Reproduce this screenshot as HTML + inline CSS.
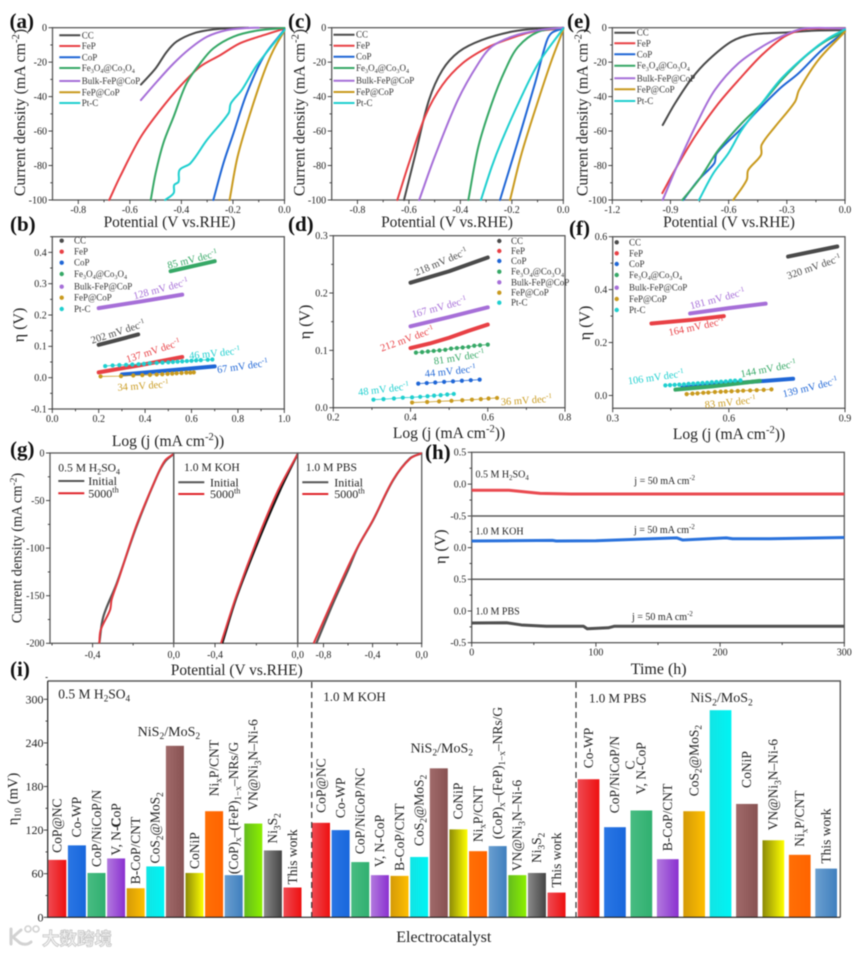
<!DOCTYPE html>
<html lang="en">
<head>
<meta charset="utf-8">
<title>HER electrocatalyst performance figure</title>
<style>
html,body{margin:0;padding:0;background:#fff;}
#figure{display:block;width:865px;height:953px;filter:blur(0.4px);font-family:"Liberation Serif","Noto Sans CJK SC",serif;}
</style>
</head>
<body>
<svg id="figure" xmlns="http://www.w3.org/2000/svg" width="865" height="953" viewBox="0 0 865 953">
<defs id="defs"></defs>
<g>
  <path d="M11 929v15M13 937l8-7M14 938l6 5q6 3 11-1" fill="none" stroke="#d2d2d2" stroke-width="3" stroke-linecap="round"/>
  <circle cx="28" cy="929" r="3" fill="none" stroke="#d2d2d2" stroke-width="1.6"/>
  <circle cx="36" cy="929" r="3" fill="none" stroke="#d2d2d2" stroke-width="1.6"/>
  <text x="42" y="945" font-family="'Noto Sans CJK SC',sans-serif" font-size="17.5" font-weight="700" fill="#f3f3f3" stroke="#c6c6c6" stroke-width="0.8">大数跨境</text>
</g>
</svg>
<script>
/* ---------- shared labels ---------- */
const seriesNames = ['CC','FeP','CoP','Fe~3~O~4~@Co~3~O~4~','Bulk-FeP@CoP','FeP@CoP','Pt-C'];
const seriesColors = ['#4a4a4a','#e84045','#1f66d6','#36a866','#a66fd8','#c99a1e','#1fcfcf'];

/* ---------- panel (a): [potential, current] ---------- */
const aCC   = [[-.557,-33],[-.5,-23.6],[-.457,-14],[-.418,-8],[-.353,-3.3],[-.275,-1],[-.198,-.2],[-.14,0]];
const aFeP  = [[-.68,-100],[-.638,-86.5],[-.56,-64],[-.483,-48],[-.405,-34],[-.327,-22.6],[-.25,-16],[-.172,-9],[-.08,-4.3],[0,-.5]];
const aCoP  = [[-.276,-100],[-.237,-78.7],[-.198,-61.3],[-.146,-38],[-.081,-16.8],[0,-1]];
const aFeCo = [[-.519,-100],[-.5,-84.5],[-.47,-67],[-.43,-51.6],[-.38,-32.3],[-.327,-20.7],[-.276,-12],[-.198,-5.2],[-.107,-1.7],[0,-.2]];
const aBulk = [[-.557,-42],[-.495,-31.3],[-.43,-20.7],[-.366,-12],[-.3,-5.2],[-.224,-1.4],[-.146,-.2],[-.1,0]];
const aFCP  = [[-.213,-100],[-.182,-74.9],[-.133,-49.7],[-.081,-26.5],[-.043,-13],[0,-1.7]];
const aPt   = [[-.463,-100],[-.43,-96],[-.428,-91.3],[-.411,-89.4],[-.407,-82.6],[-.365,-78.7],[-.301,-65.2],[-.217,-49.7],[-.208,-43.9],[-.166,-36.2],[-.107,-21.7],[0,-1.4]];

/* ---------- panel (c) ---------- */
const cCC   = [[-.619,-100],[-.574,-73],[-.522,-42],[-.47,-24.6],[-.406,-14],[-.317,-7.2],[-.2,-2.3],[-.097,-.4],[0,0]];
const cFeP  = [[-.645,-100],[-.6,-78.7],[-.535,-50.7],[-.47,-33.3],[-.392,-20.7],[-.301,-12],[-.224,-7.2],[-.123,-2.5],[0,-.4]];
const cCoP  = [[-.246,-100],[-.175,-65.2],[-.11,-32.3],[-.065,-8],[-.045,-3],[0,-.4]];
const cFeCo = [[-.369,-100],[-.33,-69],[-.278,-44],[-.226,-24.6],[-.175,-11],[-.097,-2.3],[0,0]];
const cBulk = [[-.56,-100],[-.5,-75],[-.41,-42],[-.33,-20.7],[-.278,-11],[-.2,-5.2],[-.097,-1.5],[0,0]];
const cFCP  = [[-.207,-100],[-.162,-73],[-.097,-42],[-.045,-18.8],[0,-1.2]];
const cPt   = [[-.32,-100],[-.278,-80.7],[-.24,-66],[-.175,-44],[-.097,-20.7],[0,-.4]];

/* ---------- panel (e) ---------- */
const eCC   = [[-.94,-56.5],[-.877,-44],[-.79,-29.4],[-.705,-18.8],[-.585,-8],[-.481,-4],[-.292,-2.7],[-.155,-1.7],[0,-1.4]];
const eFeP  = [[-.942,-96],[-.877,-82.6],[-.773,-63],[-.653,-44],[-.533,-28.4],[-.43,-16],[-.327,-6.2],[-.258,-2.3],[-.19,-.6],[0,-.4]];
const eCoP  = [[-.834,-100],[-.756,-88.4],[-.674,-78.7],[-.662,-73],[-.533,-58.4],[-.464,-49.7],[-.335,-35.2],[-.24,-26.5],[-.12,-13],[0,-2.3]];
const eFeCo = [[-.839,-100],[-.748,-87.4],[-.653,-71],[-.533,-55.5],[-.43,-44],[-.327,-30.4],[-.206,-16.8],[-.103,-8],[0,-2.3]];
const eBulk = [[-.94,-100],[-.86,-78.7],[-.756,-53.6],[-.67,-36],[-.55,-20.7],[-.413,-10],[-.292,-3.3],[-.206,-.4],[0,-.4]];
const eFCP  = [[-.576,-100],[-.507,-88.4],[-.499,-82.6],[-.433,-73.9],[-.43,-68],[-.361,-57.5],[-.258,-43],[-.237,-36.2],[-.138,-18.8],[0,-2.3]];
const ePt   = [[-.753,-100],[-.679,-84.5],[-.602,-73],[-.533,-59.4],[-.43,-44],[-.327,-29.4],[-.189,-14.9],[-.086,-6.2],[0,-1]];

/* ---------- panel (b): [log j, eta] ---------- */
const bCC   = [[.2,.105],[.28,.12],[.37,.138]];
const bFeP  = [[.2,.017],[.38,.04],[.56,.066]];
const bCoP  = [[.3,.01],[.5,.023],[.7,.036]];
const bFeCo = [[.51,.34],[.6,.355],[.7,.372]];
const bBulk = [[.2,.222],[.38,.243],[.56,.265]];
const bFCP  = [[.208,.004],[.296,.005],[.349,.007],[.388,.008],[.421,.009],[.45,.01],[.474,.011],[.497,.012],[.517,.013],[.536,.014],[.557,.015],[.578,.016],[.595,.016],[.61,.017]];
const bPt   = [[.228,.037],[.26,.039],[.289,.04],[.318,.041],[.345,.042],[.372,.043],[.395,.044],[.42,.046],[.45,.047],[.475,.048],[.5,.049],[.52,.05],[.54,.051],[.56,.052],[.58,.053],[.6,.054],[.62,.055],[.64,.056],[.67,.057],[.69,.058]];

/* ---------- panel (d) ---------- */
const dCC   = [[.4,.218],[.5,.238],[.6,.262]];
const dFeP  = [[.4,.104],[.45,.112],[.5,.122],[.55,.134],[.6,.145]];
const dCoP  = [[.42,.042],[.442,.043],[.464,.044],[.487,.045],[.51,.046],[.533,.047],[.556,.048],[.579,.049]];
const dFeCo = [[.414,.096],[.43,.097],[.445,.098],[.46,.099],[.475,.1],[.49,.101],[.505,.103],[.52,.104],[.535,.105],[.55,.106],[.565,.108],[.58,.109],[.6,.11]];
const dBulk = [[.4,.142],[.5,.158],[.6,.175]];
const dFCP  = [[.404,.009],[.443,.01],[.474,.011],[.506,.012],[.534,.013],[.559,.014],[.582,.015],[.602,.016],[.624,.017]];
const dPt   = [[.304,.014],[.33,.015],[.357,.016],[.38,.0175],[.404,.018],[.425,.019],[.444,.02],[.461,.021],[.478,.022],[.495,.023],[.512,.024]];

/* ---------- panel (f) ---------- */
const fCC   = [[.753,.525],[.82,.545],[.88,.563]];
const fFeP  = [[.4,.272],[.5,.285],[.587,.3]];
const fCoP  = [[.48,.03],[.6,.045],[.766,.063]];
const fFeCo = [[.462,.022],[.56,.035],[.68,.055]];
const fBulk = [[.5,.31],[.6,.33],[.695,.347]];
const fFCP  = [[.491,.005],[.506,.007],[.519,.008],[.534,.01],[.547,.011],[.564,.013],[.579,.014],[.592,.015],[.607,.016],[.623,.017],[.637,.018],[.655,.019],[.672,.02],[.69,.021],[.71,.023]];
const fPt   = [[.436,.038],[.448,.039],[.46,.04],[.472,.041],[.484,.042],[.496,.044],[.508,.045],[.52,.046],[.532,.047],[.544,.048],[.556,.05],[.568,.051],[.58,.052],[.592,.053],[.604,.055],[.616,.056],[.63,.057]];

/* ---------- panel (g): [potential, current] ---------- */
const gAcidInitial = [[-.367,-200],[-.347,-172],[-.281,-137],[-.183,-77],[-.084,-25],[-.043,-9],[0,-1]];
const gAcidCycled  = [[-.367,-200],[-.36,-186],[-.314,-165],[-.306,-154],[-.273,-133.5],[-.183,-75.7],[-.084,-25],[-.043,-8],[0,-1]];
const gKohInitial  = [[-.365,-200],[-.295,-151],[-.182,-88],[-.085,-39],[0,-1]];
const gKohCycled   = [[-.371,-200],[-.295,-149],[-.19,-88],[-.094,-39],[0,-1]];
const gPbsInitial  = [[-.858,-200],[-.722,-158],[-.6,-123],[-.518,-98.4],[-.395,-70.4],[-.232,-28.4],[-.095,-5.6],[0,-.4]];
const gPbsCycled   = [[-.88,-200],[-.736,-158],[-.613,-123],[-.518,-98],[-.395,-70],[-.232,-28],[-.095,-6],[0,0]];

/* ---------- panel (h): [hours, eta] ---------- */
const hAcid = [[0,-.095],[30,-.095],[42,-.12],[55,-.145],[80,-.155],[150,-.155],[300,-.155]];
const hKoh  = [[0,.105],[65,.115],[68,.105],[100,.11],[165,.155],[170,.12],[180,.13],[205,.155],[210,.14],[240,.14],[300,.16]];
const hPbs  = [[0,-.19],[28,-.185],[40,-.22],[60,-.24],[90,-.24],[93,-.28],[110,-.265],[115,-.24],[200,-.24],[300,-.24]];

/* ---------- panel (i) ---------- */
const acidLabels = ['CoP@NC','Co-WP','CoP/NiCoP/N','V, N-CoP','B-CoP/CNT','CoS~2~@MoS~2~','NiS~2~/MoS~2~','CoNiP','Ni~x~P/CNT','(CoP)~x~–(FeP)~1−x~–NRs/G','VN@Ni~3~N–Ni-6','Ni~3~S~2~','This work'];
const acidValues = [79,99,61,81,40,70,236,61,146,58,129,92,41];
const kohLabels = ['CoP@NC','Co-WP','CoP/NiCoP/NC','V, N-CoP','B-CoP/CNT','CoS~2~@MoS~2~','NiS~2~/MoS~2~','CoNiP','Ni~x~P/CNT','(CoP)~x~–(FeP)~1−x~–NRs/G','VN@Ni~3~N–Ni-6','Ni~3~S~2~','This work'];
const kohValues = [130,120,76,58,57,83,205,121,91,98,58,61,34];
const pbsLabels = ['Co-WP','CoP/NiCoP/N','V, N-CoP','B-CoP/CNT','CoS~2~@MoS~2~','NiS~2~/MoS~2~','CoNiP','VN@Ni~3~N–Ni-6','Ni~x~P/CNT','This work'];
const pbsValues = [190,124,147,80,146,285,156,106,86,67];

/* tick values */
const lsvTicksAC = [-.8,-.6,-.4,-.2,0];
const lsvTicksE = [-1.2,-.9,-.6,-.3,0];
const lsvYTicksA = [0,-20,-40,-60,-80,-100];
const bXTicks = [0,.2,.4,.6,.8,1];
const bYTicks = [-.1,0,.1,.2,.3,.4];
const dXTicks = [.2,.4,.6,.8];
const dYTicks = [0,.1,.2,.3];
const fXTicks = [.3,.6,.9];
const fYTicks = [0,.2,.4,.6];
const gYTicks = [0,-50,-100,-150,-200];
const hXTicks = [0,100,200,300];
const iYTicks = [0,60,120,180,240,300];

/* ---------- layout-only constants (not data) ---------- */
const acidLabelGap = [7,8,6,3,4,3,10,4,15,1,13,7,3];
const kohLabelGap  = [10,12,8,8,5,11,16,10,9,7,4,10,5];
const pbsLabelGap  = [11,14,16,8,15,8,16,10,8,5];
const acidColorKeys = [0,1,2,3,4,5,6,7,8,9,10,11,0];
const kohColorKeys  = [0,1,2,3,4,5,6,7,8,9,10,11,0];
const pbsColorKeys  = [0,1,2,3,4,5,6,7,8,9];
const barGradients = [['#ef4a52','#ee1010'],['#2a76e4','#1867dc'],['#48bc82','#30b070'],['#b27ade','#8a30d0'],['#d49a08','#ffbf00'],['#12e4e4','#00f4f4'],['#a06a6a','#885252'],['#8c8a08','#ffff00'],['#ff6f06','#ff6400'],['#6a9fd0','#3f7fbe'],['#64bc1e','#8cf000'],['#8a8a8a','#444444']];

const NS = 'http://www.w3.org/2000/svg';
const root = document.getElementById('figure');
const defs = document.getElementById('defs');

function mk(tag, attrs, parent){
  const el = document.createElementNS(NS, tag);
  for (const k in attrs) el.setAttribute(k, attrs[k]);
  (parent || root).appendChild(el);
  return el;
}
function named(el, name, interactable){
  
  
  return el;
}
function txt(parent, s, x, y, o){
  o = o || {};
  const size = o.size || 10;
  const attrs = {x:x, y:y, 'font-size':size, fill:o.fill || '#222', 'text-anchor':o.anchor || 'start'};
  if (o.weight) attrs['font-weight'] = o.weight;
  if (o.rot) attrs.transform = 'rotate(' + o.rot + ' ' + x + ' ' + y + ')';
  const t = mk('text', attrs, parent);
  let offset = 0;
  s.split(/([~^][^~^]*[~^])/).forEach(function(part){
    if (!part) return;
    const isSub = part[0] === '~';
    const isSup = part[0] === '^';
    const target = isSub ? size * .24 : isSup ? -size * .38 : 0;
    const ts = mk('tspan', {dy: (target - offset).toFixed(2)}, t);
    if (isSub || isSup) ts.setAttribute('font-size', (size * .68).toFixed(2));
    ts.textContent = (isSub || isSup) ? part.slice(1, -1) : part;
    offset = target;
  });
  return t;
}
function pts(data, sx, sy){
  return data.map(function(d){ return sx(d[0]).toFixed(2) + ',' + sy(d[1]).toFixed(2); }).join(' ');
}
/* smooth path passing through every data point */
function smooth(data, sx, sy){
  const P = data.map(function(d){ return [sx(d[0]), sy(d[1])]; });
  function dirn(a, b){
    const dx = b[0] - a[0], dy = b[1] - a[1];
    const l = Math.hypot(dx, dy) || 1;
    return [dx / l, dy / l];
  }
  let out = 'M' + P[0][0].toFixed(2) + ' ' + P[0][1].toFixed(2);
  for (let i = 0; i < P.length - 1; i++){
    const p0 = P[i - 1] || P[i], p1 = P[i], p2 = P[i + 1], p3 = P[i + 2] || P[i + 1];
    const len = Math.hypot(p2[0] - p1[0], p2[1] - p1[1]) / 3;
    const t1 = dirn(p0, p2), t2 = dirn(p1, p3);
    out += 'C' + (p1[0] + t1[0] * len).toFixed(2) + ' ' + (p1[1] + t1[1] * len).toFixed(2) + ' ' +
      (p2[0] - t2[0] * len).toFixed(2) + ' ' + (p2[1] - t2[1] * len).toFixed(2) + ' ' +
      p2[0].toFixed(2) + ' ' + p2[1].toFixed(2);
  }
  return out;
}
function scale(d0, d1, r0, r1){
  return function(v){ return r0 + (v - d0) * (r1 - r0) / (d1 - d0); };
}
function tickLine(g, x1, y1, x2, y2, name){
  named(mk('line', {x1:x1, y1:y1, x2:x2, y2:y2, stroke:'#333', 'stroke-width':.9}, g), name);
}
function frame(g, p, name){
  named(mk('rect', {x:p.x0, y:p.y0, width:p.x1 - p.x0, height:p.y1 - p.y0, fill:'none', stroke:'#5a5a5a', 'stroke-width':1.3}, g), name);
}
function axes(g, p, id){
  const sx = scale(p.xmin, p.xmax, p.x0, p.x1);
  const sy = scale(p.ymax, p.ymin, p.y0, p.y1);
  frame(g, p, id + '-frame');
  p.xticks.forEach(function(v){
    tickLine(g, sx(v), p.y1, sx(v), p.y1 + 4, id + '-x-tick');
    const lab = txt(g, (p.xfmt || function(a){ return a.toFixed(1); })(v), sx(v), p.y1 + (p.xlab || 13), {anchor:'middle', size:10});
    named(lab, id + '-x-tick-label');
  });
  const xstep = p.xticks[1] - p.xticks[0];
  for (let i = 0; i < p.xticks.length - 1; i++){
    const m = p.xticks[i] + xstep / 2;
    tickLine(g, sx(m), p.y1, sx(m), p.y1 + 2.2, id + '-x-minor-tick');
  }
  p.yticks.forEach(function(v){
    tickLine(g, p.x0 - 4, sy(v), p.x0, sy(v), id + '-y-tick');
    const lab = txt(g, (p.yfmt || function(a){ return a.toFixed(1); })(v), p.x0 - 5.5, sy(v) + 3.4, {anchor:'end', size:10});
    named(lab, id + '-y-tick-label');
  });
  const ystep = Math.abs(p.yticks[1] - p.yticks[0]);
  const ylo = Math.min.apply(null, p.yticks);
  for (let v = ylo - ystep / 2; v < p.ymax + 1e-9; v += ystep){
    if (v > p.ymin + 1e-9) tickLine(g, p.x0 - 2.2, sy(v), p.x0, sy(v), id + '-y-minor-tick');
  }
  return {sx:sx, sy:sy};
}
function panelLetter(s, x, y){
  const t = txt(root, s, x, y, {size:21, weight:700, fill:'#111'});
  named(t, 'panel-label-' + s.replace(/[()]/g, ''));
}

/* ---------- LSV panels ---------- */
const lsvAxisTitle = 'Potential (V vs.RHE)';
const lsvCurrentTitle = 'Current density (mA cm^-2^)';
function lsvPanel(id, box, xmin, xticks, curves, legend, xTitleX, yTitleX){
  const g = named(mk('g', {}), 'panel-' + id);
  const p = {x0:box[0], x1:box[1], y0:27.7, y1:200, xmin:xmin, xmax:0, ymin:-100, ymax:0, xticks:xticks, yticks:lsvYTicksA, yfmt:function(v){ return String(v); }};
  const s = axes(g, p, 'panel-' + id);
  curves.forEach(function(c, i){
    const line = mk('path', {d:smooth(c, s.sx, s.sy), fill:'none', stroke:seriesColors[i], 'stroke-width':2, 'stroke-linejoin':'round', 'stroke-linecap':'round'}, g);
    named(line, 'curve-' + id + '-' + i);
  });
  seriesNames.forEach(function(name, i){
    const yy = legend.y[i];
    const ll = mk('line', {x1:legend.x, x2:legend.x + 21, y1:yy, y2:yy, stroke:seriesColors[i], 'stroke-width':2}, g);
    named(ll, 'legend-line-' + id);
    const tt = txt(g, name, legend.x + 22.5, yy + 3, {size:9, fill:'#333'});
    named(tt, 'legend-entry-' + id);
  });
  named(txt(g, lsvAxisTitle, xTitleX, 227, {size:15.4, anchor:'middle', fill:'#222'}), 'x-axis-title-' + id);
  named(txt(g, lsvCurrentTitle, yTitleX, 112.5, {size:15.8, anchor:'middle', rot:-90, fill:'#222'}), 'y-axis-title-' + id);
}
lsvPanel('a', [52.5, 284.5], -.9, lsvTicksAC, [aCC, aFeP, aCoP, aFeCo, aBulk, aFCP, aPt], {x:59.3, y:[35.3,46,57.3,68,81,92.3,103]}, 169.5, 25);
lsvPanel('c', [331.7, 563.3], -.9, lsvTicksAC, [cCC, cFeP, cCoP, cFeCo, cBulk, cFCP, cPt], {x:333.5, y:[34.7,45.7,56.7,68,80.7,92,103]}, 447, 304.5);
lsvPanel('e', [612.3, 845], -1.2, lsvTicksE, [eCC, eFeP, eCoP, eFeCo, eBulk, eFCP, ePt], {x:614.3, y:[32.7,43.3,54.3,65.7,78.3,89.3,101]}, 729, 587.5);

/* ---------- Tafel panels ---------- */
const logTitle = 'Log (j (mA cm^-2^))';
function tafelPanel(id, cfg){
  const g = named(mk('g', {}), 'panel-' + id);
  const s = axes(g, cfg.p, 'panel-' + id);
  cfg.series.forEach(function(c, i){
    if (cfg.dotted.indexOf(i) >= 0){
      const thin = mk('polyline', {points:pts(c, s.sx, s.sy), fill:'none', stroke:seriesColors[i], 'stroke-width':.8}, g);
      named(thin, 'tafel-line-' + id + '-' + i);
      c.forEach(function(d){
        const dot = mk('circle', {cx:s.sx(d[0]).toFixed(2), cy:s.sy(d[1]).toFixed(2), r:2.1, fill:seriesColors[i]}, g);
        named(dot, 'tafel-point-' + id + '-' + i);
      });
    } else {
      const line = mk('polyline', {points:pts(c, s.sx, s.sy), fill:'none', stroke:seriesColors[i], 'stroke-width':4, 'stroke-linecap':'round', 'stroke-linejoin':'round'}, g);
      named(line, 'tafel-line-' + id + '-' + i);
    }
  });
  seriesNames.forEach(function(name, i){
    const dot = mk('circle', {cx:cfg.legend.x, cy:cfg.legend.y[i], r:2.2, fill:seriesColors[i]}, g);
    named(dot, 'legend-marker-' + id);
    named(txt(g, name, cfg.legend.tx, cfg.legend.y[i] + 3, {size:9, fill:'#333'}), 'legend-entry-' + id);
  });
  cfg.notes.forEach(function(n){
    const label = txt(g, n[0] + ' mV dec^-1^', n[1], n[2], {size:10.4, anchor:'middle', rot:n[3], fill:seriesColors[n[4]]});
    named(label, 'slope-label-' + id);
  });
  named(txt(g, logTitle, cfg.xTitle[0], cfg.xTitle[1], {size:15.6, anchor:'middle'}), 'x-axis-title-' + id);
  named(txt(g, 'η (V)', cfg.yTitle[0], cfg.yTitle[1], {size:16, anchor:'middle', rot:-90}), 'y-axis-title-' + id);
}
tafelPanel('b', {
  p:{x0:52.3, x1:284.3, y0:236.7, y1:409, xmin:0, xmax:1, ymin:-.1, ymax:.45, xticks:bXTicks, yticks:bYTicks},
  series:[bCC, bFeP, bCoP, bFeCo, bBulk, bFCP, bPt], dotted:[5, 6],
  legend:{x:61.7, tx:74, y:[240.7,251.7,262.7,274,286.7,297.7,309]},
  notes:[['202',119,335,-18,0],['137',154.3,354,-18,1],['85',193.3,262.5,-14,3],['128',161.7,292,-15,4],['46',215,356.5,-6,6],['67',243,369.5,-8,2],['34',143.3,389,-4,5]],
  xTitle:[168,446], yTitle:[24,325]
});
tafelPanel('d', {
  p:{x0:333.3, x1:565, y0:235.7, y1:407.7, xmin:.2, xmax:.8, ymin:0, ymax:.3, xticks:dXTicks, yticks:dYTicks},
  series:[dCC, dFeP, dCoP, dFeCo, dBulk, dFCP, dPt], dotted:[2, 3, 5, 6],
  legend:{x:499.3, tx:511, y:[241,251,261,271.7,282.3,292.7,302.7]},
  notes:[['218',442.3,265,-23,0],['167',440,310.5,-15,4],['212',408.3,342,-20,1],['81',459.7,360.5,-9,3],['44',450.7,374.5,-6,2],['48',384,392.5,-7,6],['36',526.7,403.5,-4,5]],
  xTitle:[449,438], yTitle:[310,322]
});
tafelPanel('f', {
  p:{x0:612.7, x1:845, y0:236.7, y1:408.3, xmin:.3, xmax:.9, ymin:-.0485, ymax:.6, xticks:fXTicks, yticks:fYTicks},
  series:[fCC, fFeP, fCoP, fFeCo, fBulk, fFCP, fPt], dotted:[5, 6],
  legend:{x:616.7, tx:629, y:[242.3,253.3,264,275,287.7,299,310]},
  notes:[['320',815,270,-19,0],['181',718.3,302,-15,4],['164',697,330,-12,1],['144',769,372,-11,3],['106',656.3,380.5,-8,6],['139',811,390.5,-14,2],['83',730.7,405.5,-6,5]],
  xTitle:[729,439], yTitle:[590,323]
});

/* ---------- panel (g) ---------- */
(function(){
  const g = named(mk('g', {}), 'panel-g');
  const y0 = 453, y1 = 643.3;
  const sy = scale(0, -200, y0, y1);
  const subs = [
    {x0:50, x1:173.7, xmin:-.61, ticks:[-.4,0], minor:[-.6,-.2], a:gAcidInitial, b:gAcidCycled, ini:'#555', name:'0.5 M H~2~SO~4~', nx:58.3, ny:471.5, lx:58.3, tx:88.3, ly:[481,493.3], tb:[485,497.3], cyc:'#e0393f'},
    {x0:173.7, x1:297.7, xmin:-.6, ticks:[-.4,0], minor:[-.2], a:gKohInitial, b:gKohCycled, ini:'#111', name:'1.0 M KOH', nx:184, ny:471, lx:178.3, tx:210, ly:[482.3,494], tb:[486.7,498], cyc:'#e0393f'},
    {x0:297.7, x1:421.7, xmin:-1.01, ticks:[-.8,-.4,0], minor:[-.6,-.2], a:gPbsInitial, b:gPbsCycled, ini:'#555', name:'1.0 M PBS', nx:305.7, ny:471, lx:302.3, tx:334.3, ly:[482.3,494], tb:[486.7,498], cyc:'#e0393f'}
  ];
  subs.forEach(function(s, k){
    const sx = scale(s.xmin, 0, s.x0, s.x1);
    const id = 'panel-g-' + k;
    frame(g, {x0:s.x0, x1:s.x1, y0:y0, y1:y1}, id + '-frame');
    s.ticks.forEach(function(v){
      tickLine(g, sx(v), y1, sx(v), y1 + 4, id + '-x-tick');
      named(txt(g, v.toFixed(1).replace('.', ','), sx(v), y1 + 14.5, {anchor:'middle', size:10}), id + '-x-tick-label');
    });
    s.minor.forEach(function(v){ tickLine(g, sx(v), y1, sx(v), y1 + 2.2, id + '-x-minor-tick'); });
    named(mk('path', {d:smooth(s.a, sx, sy), fill:'none', stroke:s.ini, 'stroke-width':2.2, 'stroke-linejoin':'round'}, g), id + '-initial-curve');
    named(mk('path', {d:smooth(s.b, sx, sy), fill:'none', stroke:s.cyc, 'stroke-width':2, 'stroke-linejoin':'round'}, g), id + '-cycled-curve');
    named(txt(g, s.name, s.nx, s.ny, {size:11.6}), id + '-electrolyte-label');
    named(mk('line', {x1:s.lx, x2:s.lx + 26, y1:s.ly[0], y2:s.ly[0], stroke:'#555', 'stroke-width':2}, g), id + '-legend-initial-line');
    named(txt(g, 'Initial', s.tx, s.tb[0], {size:12}), id + '-legend-initial');
    named(mk('line', {x1:s.lx, x2:s.lx + 26, y1:s.ly[1], y2:s.ly[1], stroke:'#e0252b', 'stroke-width':2}, g), id + '-legend-cycled-line');
    named(txt(g, '5000^th^', s.tx, s.tb[1], {size:12}), id + '-legend-cycled');
  });
  gYTicks.forEach(function(v){
    tickLine(g, 46, sy(v), 50, sy(v), 'panel-g-y-tick');
    named(txt(g, String(v), 44.5, sy(v) + 3.4, {anchor:'end', size:10}), 'panel-g-y-tick-label');
  });
  for (let i = 0; i < gYTicks.length - 1; i++){
    const m = (gYTicks[i] + gYTicks[i + 1]) / 2;
    tickLine(g, 47.8, sy(m), 50, sy(m), 'panel-g-y-minor-tick');
  }
  named(txt(g, lsvAxisTitle, 236.7, 675, {size:15.4, anchor:'middle'}), 'x-axis-title-g');
  named(txt(g, lsvCurrentTitle, 21.7, 548, {size:14.2, anchor:'middle', rot:-90}), 'y-axis-title-g');
})();

/* ---------- panel (h) ---------- */
(function(){
  const g = named(mk('g', {}), 'panel-h');
  const x0 = 471.7, x1 = 844.3;
  const sx = scale(0, 300, x0, x1);
  const rows = [
    {y0:452.3, y1:516, d:hAcid, c:'#ea4a50', name:'0.5 M H~2~SO~4~', ny:477.7, jx:634.3, jy:484, ticks:[.5,0,-.5]},
    {y0:516, y1:579.3, d:hKoh, c:'#2a72dc', name:'1.0 M KOH', ny:534.3, jx:634, jy:533, ticks:[0]},
    {y0:579.3, y1:642.7, d:hPbs, c:'#505050', name:'1.0 M PBS', ny:614.7, jx:632, jy:620, ticks:[.5,0,-.5]}
  ];
  rows.forEach(function(r, k){
    const sy = scale(.5, -.5, r.y0, r.y1);
    const id = 'panel-h-' + k;
    frame(g, {x0:x0, x1:x1, y0:r.y0, y1:r.y1}, id + '-frame');
    r.ticks.forEach(function(v){
      tickLine(g, x0 - 4, sy(v), x0, sy(v), id + '-y-tick');
      named(txt(g, v.toFixed(1), x0 - 5.5, sy(v) + 3.4, {anchor:'end', size:10}), id + '-y-tick-label');
    });
    [.25, -.25].forEach(function(v){ tickLine(g, x0 - 2.2, sy(v), x0, sy(v), id + '-y-minor-tick'); });
    named(mk('polyline', {points:pts(r.d, sx, sy), fill:'none', stroke:r.c, 'stroke-width':3, 'stroke-linejoin':'round'}, g), id + '-stability-curve');
    named(txt(g, r.name, 475.5, r.ny, {size:10}), id + '-electrolyte-label');
    named(txt(g, 'j = 50 mA cm^-2^', r.jx, r.jy, {size:10}), id + '-current-label');
  });
  hXTicks.forEach(function(v, i){
    tickLine(g, sx(v), 642.7, sx(v), 646.7, 'panel-h-x-tick');
    named(txt(g, String(v), sx(v), 655.5, {anchor:'middle', size:10}), 'panel-h-x-tick-label');
    if (i < hXTicks.length - 1) tickLine(g, sx(v + 50), 642.7, sx(v + 50), 645, 'panel-h-x-minor-tick');
  });
  named(txt(g, 'Time (h)', 658.7, 674, {size:16, anchor:'middle'}), 'x-axis-title-h');
  named(txt(g, 'η (V)', 445.7, 546.7, {size:16, anchor:'middle', rot:-90}), 'y-axis-title-h');
})();

/* ---------- panel (i) ---------- */
barGradients.forEach(function(pair, i){
  const lg = mk('linearGradient', {id:'bar-grad-' + i, x1:0, x2:1, y1:0, y2:0}, defs);
  mk('stop', {offset:'0', 'stop-color':pair[0]}, lg);
  mk('stop', {offset:'1', 'stop-color':pair[1]}, lg);
});
(function(){
  const g = named(mk('g', {}), 'panel-i');
  const p = {x0:47.7, x1:840.3, y0:681, y1:917.3};
  const sy = scale(0, 300, 917.3, 699.3);
  const groups = [
    {id:'acid', start:48.3, w:18, pitch:19.6, labels:acidLabels, vals:acidValues, gaps:acidLabelGap, colors:acidColorKeys, hOff:-6, cOff:[0,28]},
    {id:'koh', start:312, w:18, pitch:19.63, labels:kohLabels, vals:kohValues, gaps:kohLabelGap, colors:kohColorKeys, hOff:3, cOff:null},
    {id:'pbs', start:577.7, w:21.7, pitch:26.4, labels:pbsLabels, vals:pbsValues, gaps:pbsLabelGap, colors:pbsColorKeys, hOff:1, cOff:[-11,25]}
  ];
  groups.forEach(function(gr){
    gr.vals.forEach(function(v, i){
      const x = gr.start + i * gr.pitch;
      const top = sy(v);
      const bar = mk('rect', {x:x.toFixed(2), y:top.toFixed(2), width:gr.w, height:(sy(0) - top).toFixed(2), fill:'url(#bar-grad-' + gr.colors[i] + ')'}, g);
      named(bar, 'bar-' + gr.id + '-' + i);
      const cx = x + gr.w / 2;
      const lab = gr.labels[i];
      if (lab.indexOf('NiS') === 0){
        named(txt(g, lab, cx + gr.hOff, top - gr.gaps[i], {size:14, anchor:'middle'}), 'bar-label-' + gr.id + '-' + i);
      } else {
        const bottom = top - gr.gaps[i];
        named(txt(g, lab, cx + 4.3, bottom, {size:13.5, rot:-90}), 'bar-label-' + gr.id + '-' + i);
        if (lab.indexOf('V, N') === 0 && gr.cOff){
          named(txt(g, 'C', cx + 4.3 + gr.cOff[0], bottom - gr.cOff[1], {size:13.5, rot:-90}), 'bar-label-extra-c-' + gr.id);
        }
      }
    });
  });
  named(mk('path', {d:'M' + p.x0 + ' ' + p.y0 + 'H' + p.x1 + 'V' + p.y1, fill:'none', stroke:'#5a5a5a', 'stroke-width':1.4}, g), 'panel-i-frame-top-right');
  named(mk('path', {d:'M' + p.x0 + ' ' + p.y0 + 'V' + p.y1 + 'H' + p.x1, fill:'none', stroke:'#222', 'stroke-width':1.2}, g), 'panel-i-frame-left-bottom');
  iYTicks.forEach(function(v, i){
    tickLine(g, p.x0 - 4, sy(v), p.x0, sy(v), 'panel-i-y-tick');
    named(txt(g, String(v), 43.5, sy(v) + 4, {anchor:'end', size:12}), 'panel-i-y-tick-label');
    tickLine(g, p.x0 - 2.2, sy(v + 30), p.x0, sy(v + 30), 'panel-i-y-minor-tick');
  });
  named(mk('line', {x1:311.7, x2:311.7, y1:682, y2:917, stroke:'#333', 'stroke-width':1.2, 'stroke-dasharray':'6 4'}, g), 'divider-acid-koh');
  named(mk('line', {x1:576, x2:576, y1:682, y2:917, stroke:'#333', 'stroke-width':1.2, 'stroke-dasharray':'6 4'}, g), 'divider-koh-pbs');
  named(txt(g, '0.5 M H~2~SO~4~', 58.3, 698.3, {size:13.5}), 'electrolyte-label-acid');
  named(txt(g, '1.0 M KOH', 323.3, 701, {size:13}), 'electrolyte-label-koh');
  named(txt(g, '1.0 M PBS', 589, 702.3, {size:13}), 'electrolyte-label-pbs');
  named(txt(g, 'η~10~ (mV)', 17.3, 799, {size:14.5, anchor:'middle', rot:-90}), 'y-axis-title-i');
  named(txt(g, 'Electrocatalyst', 443.8, 942, {size:16, anchor:'middle'}), 'x-axis-title-i');
})();

panelLetter('(a)', 9.5, 28);
panelLetter('(b)', 10, 231);
panelLetter('(c)', 288, 28);
panelLetter('(d)', 288, 231);
panelLetter('(e)', 567, 28);
panelLetter('(f)', 569, 235);
panelLetter('(g)', 10, 456);
panelLetter('(h)', 425, 459);
panelLetter('(i)', 10, 676);
</script>
</body>
</html>
